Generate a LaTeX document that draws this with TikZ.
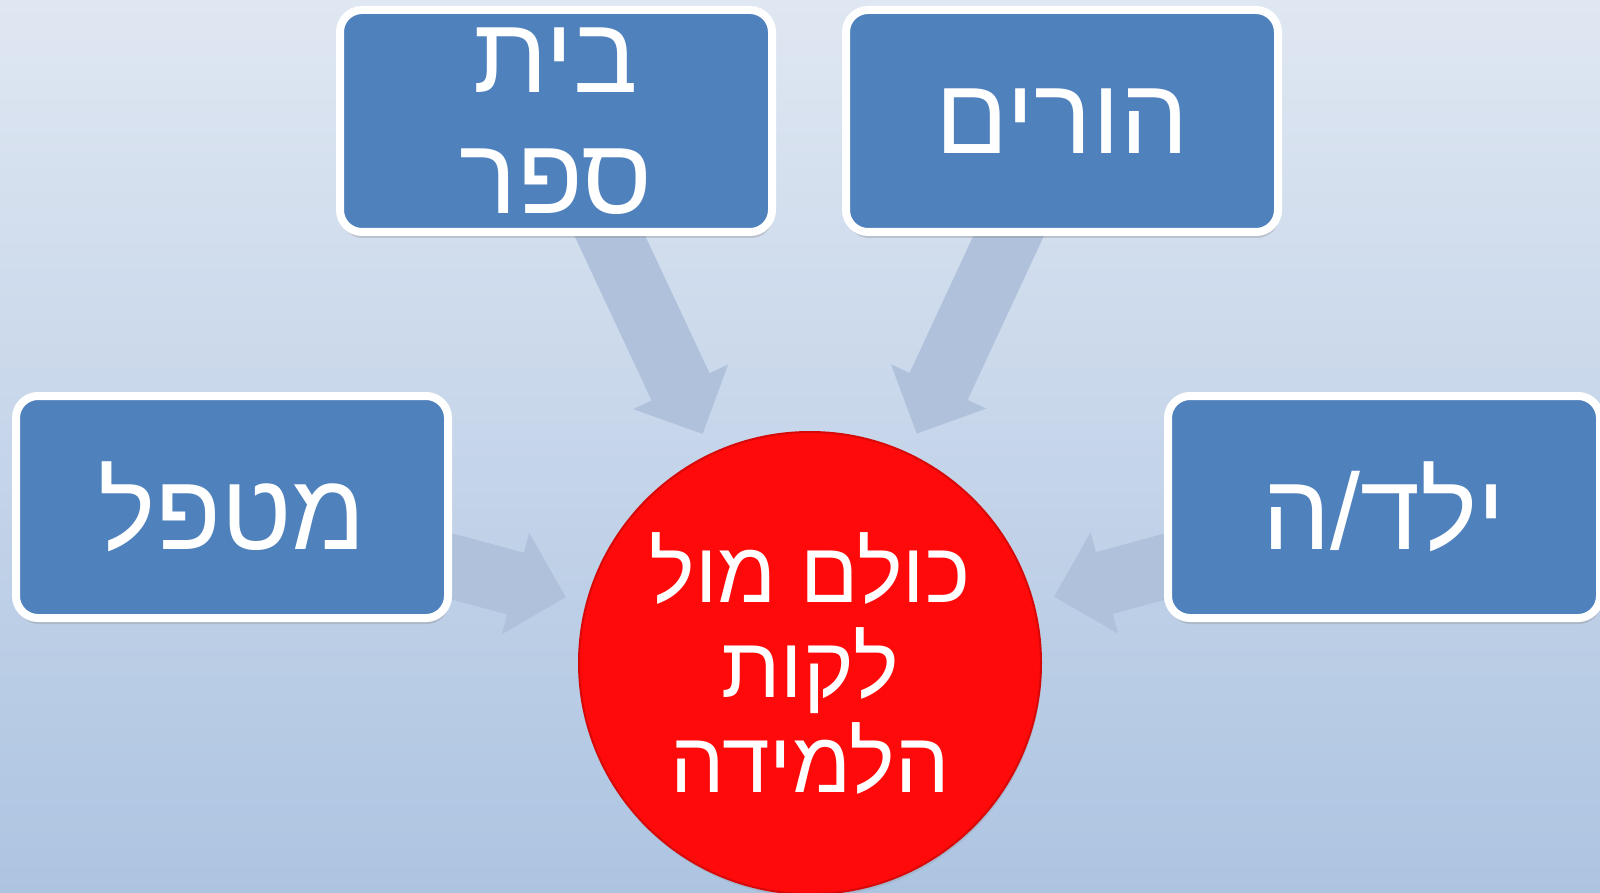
\documentclass[tikz,border=0pt]{standalone}
\usepackage{fontspec}
\newfontfamily\hebfont[Script=Hebrew]{Liberation Sans}
\TeXXeTstate=1
\usetikzlibrary{arrows.meta,shadows}
\pgfdeclarelayer{bg}
\pgfsetlayers{bg,main}

\definecolor{boxblue}{RGB}{79,129,189}
\definecolor{flowblue}{RGB}{176,193,220}
\definecolor{skytop}{RGB}{223,231,242}
\definecolor{skybot}{RGB}{173,196,225}
\definecolor{hubred}{RGB}{254,10,10}
\definecolor{hubrim}{RGB}{215,8,8}

\tikzset{
  role/.style={draw=white, line width=8pt, fill=boxblue, rounded corners=22pt,
    minimum width=432pt, minimum height=222pt, inner sep=0pt, align=center,
    text=white, font=\hebfont\fontsize{108}{121}\selectfont,
    drop shadow={shadow xshift=1pt, shadow yshift=-6pt, opacity=0.3}},
  hubdisc/.style={circle, draw=hubrim, line width=2pt, fill=hubred,
    minimum size=462pt, inner sep=0pt, align=center,
    text=white, font=\hebfont\fontsize{86}{95}\selectfont,
    drop shadow={shadow xshift=1pt, shadow yshift=-3pt, opacity=0.2}},
  flow/.style={draw=flowblue, line width=64pt, shorten >=21pt,
    -{Triangle[width=105pt, length=52pt, line width=0pt]}}
}

\begin{document}
\begin{tikzpicture}[x=1pt, y=-1pt]
\useasboundingbox (0,0) rectangle (1600,893);

% boxes
\node[role] (school) at (556,121) {\beginR בית\endR\\\beginR ספר\endR};
\node[role] (parents) at (1062,121) {\beginR הורים\endR};
\node[role] (therapist) at (232,507) {\beginR מטפל\endR};
\node[role] (child) at (1384,507) {\beginR ילד/ה\endR};

% centre
\node[hubdisc] (hub) at (810,663)
  {\beginR כולם מול\endR\\\beginR לקות\endR\\\beginR הלמידה\endR};

% background and arrows
\begin{pgfonlayer}{bg}
\fill[top color=skytop, bottom color=skybot] (0,0) rectangle (1600,893);
\foreach \src in {school,parents,therapist,child}{
	\draw[flow] (\src.center) -- (hub);
}
\end{pgfonlayer}

\end{tikzpicture}
\end{document}
